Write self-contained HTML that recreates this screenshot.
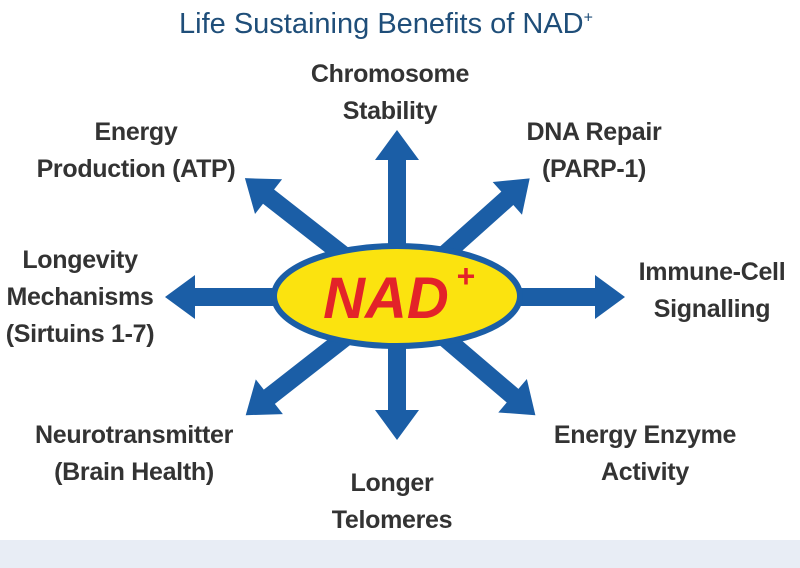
<!DOCTYPE html>
<html><head><meta charset="utf-8"><style>
html,body{margin:0;padding:0;background:#fff;}
body{width:800px;height:568px;position:relative;overflow:hidden;font-family:"Liberation Sans",sans-serif;}
.t{position:absolute;font-weight:bold;font-size:25px;color:#333;line-height:37px;text-align:center;white-space:nowrap;letter-spacing:-0.3px;}
</style></head><body>
<div style="position:absolute;left:0;width:772px;text-align:center;top:8px;font-size:29px;color:#1f4e79;letter-spacing:0px;">Life Sustaining Benefits of NAD<sup style="font-size:16px">+</sup></div>
<svg width="800" height="568" style="position:absolute;left:0;top:0">
<g fill="#1b5ea6">
<g transform="translate(397,297) rotate(-90)"><path d="M0,-9H137V-22L167,0L137,22V9H0Z"/></g>
<g transform="translate(397,297) rotate(90)"><path d="M0,-9H113V-22L143,0L113,22V9H0Z"/></g>
<g transform="translate(397,297) rotate(180)"><path d="M0,-9H202V-22L232,0L202,22V9H0Z"/></g>
<g transform="translate(397,297)"><path d="M0,-9H198V-22L228,0L198,22V9H0Z"/></g>
<g transform="translate(397,297) rotate(-142)"><path d="M0,-9H163V-22L193,0L163,22V9H0Z"/></g>
<g transform="translate(397,297) rotate(-41.8)"><path d="M0,-9H148V-22L178,0L148,22V9H0Z"/></g>
<g transform="translate(397,297) rotate(142)"><path d="M0,-9H162V-22L192,0L162,22V9H0Z"/></g>
<g transform="translate(397,297) rotate(40.5)"><path d="M0,-9H152V-22L182,0L152,22V9H0Z"/></g>
</g>
<ellipse cx="397" cy="296" rx="123" ry="50" fill="#fbe30f" stroke="#1b5ea6" stroke-width="6"/>
<text x="386" y="318" text-anchor="middle" font-family="Liberation Sans" font-weight="bold" font-style="italic" font-size="58" fill="#e32329">NAD</text>
<text x="466" y="287" text-anchor="middle" font-family="Liberation Sans" font-weight="bold" font-size="32" fill="#e32329">+</text>
<rect x="0" y="540" width="800" height="28" fill="#e8edf5"/>
</svg>
<div class="t" style="left:270px;top:56px;width:240px">Chromosome<br>Stability</div>
<div class="t" style="left:6px;top:114px;width:260px">Energy<br>Production (ATP)</div>
<div class="t" style="left:474px;top:114px;width:240px">DNA Repair<br>(PARP-1)</div>
<div class="t" style="left:-20px;top:242px;width:200px">Longevity<br>Mechanisms<br>(Sirtuins 1-7)</div>
<div class="t" style="left:607px;top:254px;width:210px">Immune-Cell<br>Signalling</div>
<div class="t" style="left:4px;top:417px;width:260px">Neurotransmitter<br>(Brain Health)</div>
<div class="t" style="left:515px;top:417px;width:260px">Energy Enzyme<br>Activity</div>
<div class="t" style="left:292px;top:465px;width:200px">Longer<br>Telomeres</div>
</body></html>
